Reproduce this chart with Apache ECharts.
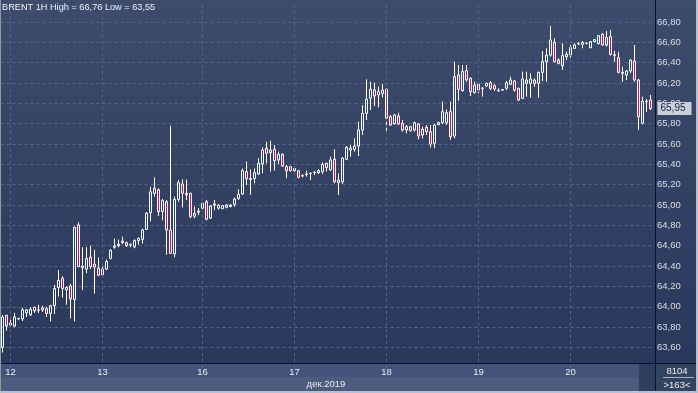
<!DOCTYPE html>
<html><head><meta charset="utf-8">
<script src="https://cdn.jsdelivr.net/npm/echarts@6/dist/echarts.min.js"></script>
<style>
html,body{margin:0;padding:0;background:#2c3a5c;}
#c{width:698px;height:393px;background:linear-gradient(#3d4b6c,#28365a);}
</style></head><body><div id="c"></div>
<script>
const opens=[63.60,63.916,63.84,63.81,63.88,63.88,63.94,63.92,63.995,63.97,63.97,63.98,63.935,64.01,64.19,64.28,64.165,64.205,64.07,64.805,
64.385,64.37,64.486,64.42,64.38,64.315,64.37,64.476,64.585,64.60,64.63,64.63,64.61,64.59,64.65,64.663,64.76,64.925,65.115,65.15,
64.935,65.033,64.755,64.52,65.056,65.207,65.115,65.115,64.89,64.93,64.968,65.033,64.87,65.01,64.97,64.965,64.978,64.985,65.007,65.066,
65.109,65.328,65.26,65.26,65.305,65.404,65.558,65.515,65.548,65.443,65.499,65.378,65.378,65.338,65.338,65.285,65.30,65.31,65.318,65.318,
65.328,65.41,65.345,65.45,65.246,65.23,65.45,65.54,65.548,65.58,65.738,65.902,66.05,66.132,66.082,66.098,66.138,65.869,65.80,65.876,
65.804,65.738,65.771,65.738,65.797,65.689,65.764,65.722,65.607,65.79,65.81,65.81,65.918,65.679,66.279,66.125,66.322,66.246,66.105,66.19,
66.148,66.171,66.203,66.174,66.128,66.13,66.148,66.187,66.22,66.148,66.049,66.197,66.197,66.23,66.197,66.305,66.41,66.475,66.60,66.426,
66.37,66.459,66.475,66.541,66.585,66.58,66.59,66.548,66.607,66.587,66.679,66.574,66.656,66.478,66.449,66.295,66.279,66.318,66.416,66.23,
65.804,66.016,66.033];
const closes=[63.90,63.81,63.82,63.90,63.885,63.97,63.97,63.975,63.96,63.965,63.99,63.935,64.01,64.18,64.26,64.18,64.19,64.075,64.78,64.395,
64.40,64.475,64.395,64.39,64.31,64.37,64.445,64.556,64.597,64.615,64.645,64.60,64.607,64.65,64.67,64.755,64.92,65.13,65.165,64.935,
65.044,64.755,64.525,65.056,65.22,65.115,65.10,64.886,64.918,64.94,65.017,64.86,64.99,65.00,64.998,64.994,65.00,65.00,65.06,65.105,
65.338,65.26,65.25,65.318,65.41,65.541,65.509,65.54,65.437,65.499,65.384,65.338,65.34,65.36,65.272,65.29,65.305,65.312,65.322,65.338,
65.40,65.368,65.443,65.23,65.22,65.46,65.568,65.56,65.58,65.738,65.902,66.04,66.138,66.072,66.115,66.131,65.853,65.787,65.886,65.797,
65.738,65.771,65.731,65.81,65.679,65.745,65.722,65.60,65.787,65.81,65.918,65.908,65.672,66.263,66.138,66.312,66.23,66.115,66.18,66.131,
66.15,66.197,66.148,66.141,66.122,66.135,66.203,66.23,66.131,66.033,66.24,66.23,66.24,66.197,66.305,66.41,66.475,66.623,66.41,66.393,
66.469,66.482,66.548,66.574,66.587,66.60,66.592,66.607,66.626,66.666,66.574,66.646,66.482,66.472,66.305,66.305,66.318,66.426,66.23,65.869,
66.023,66.02,65.95];
const lows=[63.55,63.765,63.805,63.80,63.875,63.86,63.90,63.91,63.94,63.94,63.95,63.90,63.855,63.93,64.10,64.09,64.02,63.885,63.855,64.39,
64.165,64.33,64.37,64.13,64.30,64.29,64.36,64.466,64.57,64.585,64.617,64.59,64.585,64.575,64.61,64.62,64.755,64.84,65.083,64.893,
64.85,64.51,64.52,64.486,65.033,64.977,65.05,64.87,64.87,64.90,64.958,64.85,64.863,64.95,64.955,64.96,64.968,64.978,64.984,65.05,
65.10,65.197,65.10,65.214,65.295,65.312,65.41,65.328,65.34,65.404,65.377,65.263,65.328,65.328,65.263,65.272,65.28,65.246,65.295,65.305,
65.305,65.33,65.338,65.214,65.099,65.207,65.443,65.476,65.525,65.483,65.689,65.836,65.935,65.974,65.96,66.06,65.722,65.777,65.79,65.787,
65.722,65.705,65.722,65.722,65.646,65.656,65.689,65.567,65.558,65.787,65.797,65.787,65.64,65.656,66.026,66.115,66.213,66.072,66.098,66.098,
66.066,66.164,66.131,66.122,66.115,66.128,66.131,66.18,66.115,66.023,66.043,66.066,66.056,66.164,66.056,66.22,66.213,66.459,66.403,66.383,
66.328,66.426,66.449,66.534,66.574,66.541,66.58,66.541,66.60,66.58,66.567,66.557,66.469,66.41,66.295,66.213,66.23,66.295,66.213,65.738,
65.794,65.918,65.935];
const highs=[63.92,63.92,63.88,63.94,63.89,63.99,63.975,63.995,64.00,64.02,64.01,64.00,64.02,64.215,64.36,64.30,64.20,64.225,64.79,64.83,
64.585,64.585,64.60,64.56,64.485,64.395,64.466,64.565,64.67,64.66,64.69,64.64,64.624,64.663,64.683,64.768,64.93,65.18,65.273,65.165,
65.06,65.05,65.78,65.082,65.246,65.253,65.25,65.122,64.984,64.97,65.023,65.05,65.00,65.05,65.008,65.00,65.01,65.01,65.072,65.155,
65.36,65.427,65.35,65.36,65.46,65.567,65.623,65.633,65.59,65.525,65.508,65.394,65.384,65.377,65.345,65.305,65.338,65.32,65.335,65.354,
65.42,65.417,65.476,65.548,65.312,65.47,65.58,65.59,65.656,65.82,65.984,66.236,66.213,66.203,66.164,66.19,66.148,65.886,65.896,65.908,
65.836,65.787,65.777,65.82,65.804,65.771,65.787,65.787,65.797,65.82,66.017,65.94,66.017,66.41,66.377,66.377,66.377,66.256,66.213,66.203,
66.158,66.203,66.22,66.187,66.148,66.141,66.22,66.262,66.23,66.154,66.312,66.312,66.295,66.246,66.312,66.515,66.541,66.76,66.64,66.443,
66.59,66.508,66.574,66.59,66.60,66.613,66.60,66.613,66.633,66.672,66.689,66.711,66.721,66.515,66.508,66.36,66.328,66.436,66.574,66.24,
66.066,66.043,66.082];
const dayLabels=['12','13','16','17','18','19','20'];
const dayStart=[2,25,50,73,96,119,142];
const monthLabel='дек.2019';
const symbolName='BRENT 1H';
const barsInfo=['8104','>163<'];

const categories=opens.map((_,i)=>String(i));
const candles=opens.map((o,i)=>[o,closes[i],lows[i],highs[i]]);
const fmt=v=>v.toFixed(2).replace('.',',');
const hi=Math.max(...highs), lo=Math.min(...lows);
const last=closes[closes.length-1];
const gridCol='#56668a';
const FONT='Liberation Sans';

const chart=echarts.init(document.getElementById('c'),null,{renderer:'canvas'});
chart.setOption({
  animation:false,
  backgroundColor:'transparent',
  title:{text:`${symbolName} High = ${fmt(hi)} Low = ${fmt(lo)}`,left:2,top:3,padding:0,
    textStyle:{color:'#eef1f6',fontSize:9.2,fontWeight:'normal',fontFamily:FONT}},
  grid:[
    {left:0.5,right:45.5,top:1.66,bottom:25.22},
    {left:0.5,right:45.5,top:363,height:30}
  ],
  xAxis:[
    {gridIndex:0,type:'category',data:categories,boundaryGap:true,show:false},
    {gridIndex:1,type:'category',data:categories,boundaryGap:true,position:'top',z:10,
      axisLine:{show:false},axisTick:{show:false},splitLine:{show:false},
      axisLabel:{inside:true,margin:4,color:'#e8ecf2',fontSize:9.5,fontFamily:FONT,
        interval:(i)=>dayStart.includes(i),
        formatter:(v,i)=>{const k=dayStart.indexOf(Number(v));return k>=0?dayLabels[k]:'';}}}
  ],
  yAxis:[
    {gridIndex:0,type:'value',position:'right',min:63.4,max:67.0,interval:0.2,offset:2.5,
      axisLine:{show:false},axisTick:{show:false},
      axisLabel:{color:'#d9dee7',fontSize:9.5,fontFamily:FONT,margin:2,showMinLabel:false,showMaxLabel:false,formatter:fmt},
      splitLine:{show:true,showMinLine:false,showMaxLine:false,lineStyle:{color:gridCol,type:[3,3],width:1}}},
    {gridIndex:1,type:'value',show:false}
  ],
  series:[{
    type:'candlestick',xAxisIndex:0,yAxisIndex:0,data:candles,barWidth:2,
    itemStyle:{color:'rgba(0,0,0,0)',color0:'#a3284f',borderColor:'#ffffff',borderColor0:'#ffffff',borderWidth:1},
    markLine:{silent:true,symbol:['none','none'],animation:false,
      label:{show:false},
      lineStyle:{color:gridCol,type:[3,3],width:1},
      data:[
        ...dayStart.map(i=>({xAxis:i})),
        {yAxis:last,lineStyle:{color:'rgba(0,0,0,0)',width:0},
          label:{show:true,position:'end',distance:5,formatter:fmt(last),color:'#18213a',fontSize:10,fontFamily:FONT,
            backgroundColor:'#c9d0da',padding:[2,6,1,3]}}
      ]}
  }],
  graphic:[
    {type:'rect',z:5,shape:{x:0,y:363,width:655,height:14},style:{fill:'#43537a'}},
    {type:'rect',z:5,shape:{x:0,y:377,width:655,height:16},style:{fill:'#4c5b7e'}},
    {type:'rect',z:6,shape:{x:639,y:364,width:16,height:28},style:{fill:'#2f3d5f'}},
    {type:'rect',z:5,shape:{x:655,y:363,width:43,height:30},style:{fill:'#34435f'}},
    {type:'line',z:20,shape:{x1:0,y1:363.5,x2:698,y2:363.5},style:{stroke:'#0c1222',lineWidth:1}},
    {type:'line',z:20,shape:{x1:655.5,y1:0,x2:655.5,y2:393},style:{stroke:'#0c1222',lineWidth:1}},
    {type:'line',z:20,shape:{x1:663,y1:377.5,x2:694,y2:377.5},style:{stroke:'#aab3c2',lineWidth:1}},
    {type:'text',z:20,x:677,y:371,style:{text:barsInfo[0],fill:'#e8ecf2',fontSize:9.5,fontFamily:FONT,align:'center',verticalAlign:'middle'}},
    {type:'text',z:20,x:677,y:385,style:{text:barsInfo[1],fill:'#e8ecf2',fontSize:9.5,fontFamily:FONT,align:'center',verticalAlign:'middle'}},
    {type:'text',z:20,x:326,y:384,style:{text:monthLabel,fill:'#e8ecf2',fontSize:9.5,fontFamily:FONT,align:'center',verticalAlign:'middle'}},
    {type:'rect',z:30,shape:{x:0,y:0,width:1,height:393},style:{fill:'#8e98ab'}},
    {type:'rect',z:30,shape:{x:696,y:0,width:2,height:393},style:{fill:'#b9c0cb'}},
    {type:'rect',z:30,shape:{x:0,y:391,width:698,height:2},style:{fill:'#b9c0cb'}}
  ]
});
</script></body></html>
